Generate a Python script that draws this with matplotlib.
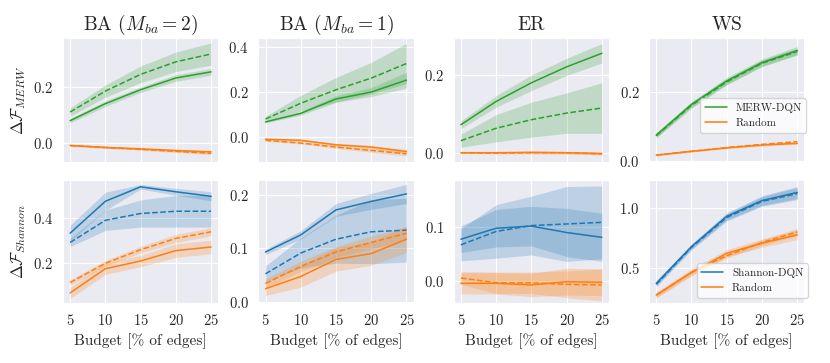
import numpy as np
import matplotlib
matplotlib.use("Agg")
import matplotlib.pyplot as plt
import seaborn as sns
from matplotlib.ticker import MultipleLocator

sns.set_style("darkgrid")
plt.rcParams["font.family"] = "serif"
plt.rcParams["font.serif"] = ["cmr10"]
plt.rcParams["mathtext.fontset"] = "cm"
plt.rcParams["axes.formatter.use_mathtext"] = True
plt.rcParams["axes.unicode_minus"] = False

# x axis
budget = [5, 10, 15, 20, 25]
titles = ["BA ($M_{ba}=2$)", "BA ($M_{ba}=1$)", "ER", "WS"]

# MERW row, one list per graph (BA2, BA1, ER, WS)
merw_dqn = [[0.079, 0.14, 0.19, 0.232, 0.254],
            [0.067, 0.105, 0.169, 0.2, 0.253],
            [0.072, 0.132, 0.18, 0.221, 0.256],
            [0.074, 0.163, 0.231, 0.284, 0.319]]
merw_dqn_err = [[0.008, 0.01, 0.01, 0.012, 0.012],
                [0.005, 0.008, 0.015, 0.02, 0.035],
                [0.01, 0.015, 0.02, 0.022, 0.025],
                [0.007, 0.008, 0.01, 0.01, 0.012]]
merw_dqn_dash = [[0.11, 0.185, 0.245, 0.29, 0.318],
                 [0.08, 0.15, 0.21, 0.262, 0.327],
                 [0.031, 0.063, 0.085, 0.102, 0.115],
                 [0.072, 0.16, 0.228, 0.282, 0.316]]
merw_dqn_dash_err = [[0.015, 0.022, 0.03, 0.035, 0.04],
                     [0.012, 0.035, 0.055, 0.07, 0.09],
                     [0.017, 0.035, 0.045, 0.052, 0.065],
                     [0.006, 0.008, 0.008, 0.01, 0.01]]
merw_rand = [[-0.01, -0.017, -0.022, -0.028, -0.033],
             [-0.01, -0.015, -0.035, -0.045, -0.065],
             [0.0, 0.0, 0.001, 0.0, -0.002],
             [0.016, 0.027, 0.037, 0.045, 0.05]]
merw_rand_err = [[0.003, 0.003, 0.003, 0.004, 0.005],
                 [0.004, 0.005, 0.006, 0.008, 0.01],
                 [0.002, 0.002, 0.003, 0.003, 0.003],
                 [0.002, 0.002, 0.002, 0.003, 0.003]]
merw_rand_dash = [[-0.01, -0.017, -0.024, -0.031, -0.038],
                  [-0.015, -0.027, -0.045, -0.06, -0.075],
                  [0.0, -0.001, 0.0, 0.0, -0.003],
                  [0.016, 0.027, 0.038, 0.047, 0.055]]
merw_rand_dash_err = [[0.003, 0.003, 0.003, 0.004, 0.005],
                      [0.004, 0.005, 0.006, 0.008, 0.01],
                      [0.002, 0.002, 0.003, 0.003, 0.003],
                      [0.002, 0.002, 0.002, 0.003, 0.003]]

# Shannon row
shan_dqn = [[0.333, 0.474, 0.538, 0.516, 0.496],
            [0.093, 0.125, 0.172, 0.188, 0.202],
            [0.0775, 0.098, 0.102, 0.09, 0.081],
            [0.369, 0.677, 0.93, 1.062, 1.13]]
shan_dqn_err = [[0.035, 0.04, 0.01, 0.015, 0.02],
                [0.005, 0.008, 0.012, 0.015, 0.018],
                [0.025, 0.035, 0.037, 0.045, 0.045],
                [0.02, 0.02, 0.03, 0.04, 0.05]]
shan_dqn_dash = [[0.292, 0.39, 0.42, 0.43, 0.43],
                 [0.052, 0.091, 0.117, 0.131, 0.134],
                 [0.067, 0.092, 0.103, 0.106, 0.109],
                 [0.36, 0.67, 0.92, 1.055, 1.12]]
shan_dqn_dash_err = [[0.018, 0.045, 0.06, 0.07, 0.07],
                     [0.015, 0.028, 0.045, 0.06, 0.06],
                     [0.03, 0.05, 0.055, 0.07, 0.068],
                     [0.02, 0.02, 0.03, 0.04, 0.05]]
shan_rand = [[0.069, 0.176, 0.21, 0.256, 0.272],
             [0.024, 0.047, 0.079, 0.09, 0.117],
             [-0.005, -0.005, -0.008, -0.002, -0.003],
             [0.27, 0.46, 0.621, 0.705, 0.775]]
shan_rand_err = [[0.025, 0.025, 0.025, 0.03, 0.03],
                 [0.013, 0.02, 0.022, 0.022, 0.025],
                 [0.02, 0.02, 0.022, 0.025, 0.025],
                 [0.025, 0.03, 0.03, 0.035, 0.04]]
shan_rand_dash = [[0.115, 0.2, 0.26, 0.31, 0.339],
                  [0.034, 0.066, 0.093, 0.111, 0.128],
                  [0.005, -0.004, -0.004, -0.007, -0.008],
                  [0.27, 0.46, 0.6, 0.71, 0.8]]
shan_rand_dash_err = [[0.012, 0.012, 0.015, 0.018, 0.018],
                      [0.008, 0.01, 0.01, 0.012, 0.012],
                      [0.012, 0.02, 0.02, 0.025, 0.03],
                      [0.02, 0.02, 0.02, 0.025, 0.03]]

top_ylims = [(-0.068, 0.375), (-0.11, 0.44), (-0.023, 0.295), (-0.003, 0.355)]
bot_ylims = [(0.024, 0.57), (-0.003, 0.229), (-0.042, 0.189), (0.203, 1.238)]
top_steps = [0.2, 0.2, 0.2, 0.2]
bot_steps = [0.2, 0.1, 0.1, 0.5]

green = "#2ca02c"
orange = "#ff7f0e"
blue = "#1f77b4"


def draw(ax, y, err, color, ls, label=None):
    y = np.array(y)
    err = np.array(err)
    ax.fill_between(budget, y - err, y + err, color=color, alpha=0.22, linewidth=0)
    ax.plot(budget, y, color=color, ls=ls, lw=1.1, label=label)


fig, axes = plt.subplots(2, 4, figsize=(8.3, 3.63), dpi=100)
plt.subplots_adjust(left=0.076, right=0.969, top=0.895, bottom=0.165,
                    wspace=0.26, hspace=0.145)

for i in range(4):
    ax = axes[0, i]
    draw(ax, merw_dqn[i], merw_dqn_err[i], green, "-", "MERW-DQN")
    draw(ax, merw_dqn_dash[i], merw_dqn_dash_err[i], green, "--")
    draw(ax, merw_rand[i], merw_rand_err[i], orange, "-", "Random")
    draw(ax, merw_rand_dash[i], merw_rand_dash_err[i], orange, "--")
    ax.set_ylim(top_ylims[i])
    ax.yaxis.set_major_locator(MultipleLocator(top_steps[i]))
    ax.set_xticks(budget)
    ax.set_xticklabels([])
    ax.set_title(titles[i], fontsize=14)
    ax.tick_params(labelsize=10.5)

    ax = axes[1, i]
    draw(ax, shan_dqn[i], shan_dqn_err[i], blue, "-", "Shannon-DQN")
    draw(ax, shan_dqn_dash[i], shan_dqn_dash_err[i], blue, "--")
    draw(ax, shan_rand[i], shan_rand_err[i], orange, "-", "Random")
    draw(ax, shan_rand_dash[i], shan_rand_dash_err[i], orange, "--")
    ax.set_ylim(bot_ylims[i])
    ax.yaxis.set_major_locator(MultipleLocator(bot_steps[i]))
    ax.set_xticks(budget)
    ax.set_xlabel("Budget [% of edges]", fontsize=11)
    ax.tick_params(labelsize=10.5)

axes[0, 0].set_ylabel(r"$\Delta\mathcal{F}_{MERW}$", fontsize=12)
axes[1, 0].set_ylabel(r"$\Delta\mathcal{F}_{Shannon}$", fontsize=12)

axes[0, 3].legend(loc="lower right", bbox_to_anchor=(1.05, 0.19), fontsize=8,
                  frameon=True, facecolor="white")
axes[1, 3].legend(loc="lower right", bbox_to_anchor=(1.06, 0.0), fontsize=8,
                  frameon=True, facecolor="white")

plt.savefig("out.png", dpi=100)
